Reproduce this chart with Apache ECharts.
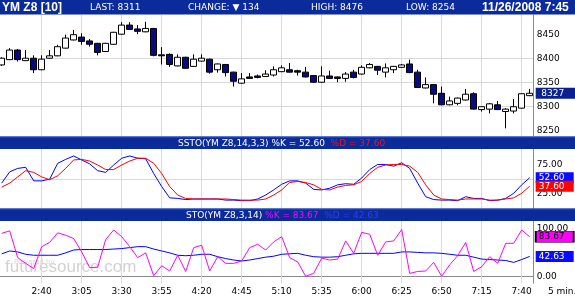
<!DOCTYPE html>
<html><head><meta charset="utf-8">
<script src="https://cdn.jsdelivr.net/npm/echarts@6/dist/echarts.min.js"></script>
<style>html,body{margin:0;padding:0;background:#fff}#c{width:575px;height:300px}</style>
</head><body><div id="c"></div>
<script>
// ---- data ----
const times = ['2:15','2:20','2:25','2:30','2:35','2:40','2:45','2:50','2:55','3:00','3:05','3:10','3:15','3:20','3:25','3:30','3:35','3:40','3:45','3:50','3:55','4:00','4:05','4:10','4:15','4:20','4:25','4:30','4:35','4:40','4:45','4:50','4:55','5:00','5:05','5:10','5:15','5:20','5:25','5:30','5:35','5:40','5:45','5:50','5:55','6:00','6:05','6:10','6:15','6:20','6:25','6:30','6:35','6:40','6:45','6:50','6:55','7:00','7:05','7:10','7:15','7:20','7:25','7:30','7:35','7:40','7:45'];
const opens  = [8386,8397,8417,8395,8400,8376,8400,8405,8421,8438,8444,8436,8431,8414,8429,8450,8469,8461,8455,8462,8407,8408,8384,8402,8383,8394,8398,8376,8387,8371,8348,8361,8363,8362,8365,8372,8376,8374,8371,8364,8350,8363,8361,8358,8371,8367,8380,8383,8371,8376,8381,8388,8371,8338,8345,8327,8303,8306,8313,8326,8293,8294,8303,8289,8290,8296,8322];
const closes = [8400,8417,8397,8400,8376,8398,8405,8424,8442,8449,8435,8429,8412,8431,8454,8469,8460,8456,8462,8406,8405,8387,8402,8379,8398,8400,8371,8388,8370,8352,8357,8358,8360,8367,8376,8380,8371,8371,8361,8350,8363,8358,8358,8367,8360,8381,8387,8375,8380,8383,8386,8370,8339,8345,8325,8303,8311,8317,8325,8294,8299,8305,8293,8294,8299,8326,8327];
const lows   = [8384,8396,8393,8394,8369,8375,8399,8404,8420,8437,8428,8424,8406,8413,8428,8449,8459,8450,8454,8404,8387,8382,8383,8378,8382,8393,8368,8370,8362,8341,8347,8357,8358,8361,8362,8371,8370,8364,8360,8349,8349,8357,8350,8351,8358,8366,8379,8365,8360,8369,8380,8369,8338,8337,8306,8302,8302,8302,8312,8293,8289,8285,8292,8254,8285,8295,8321];
const highs  = [8402,8421,8419,8417,8406,8406,8417,8428,8449,8459,8452,8440,8432,8432,8455,8475,8475,8469,8476,8463,8423,8410,8408,8403,8408,8408,8399,8389,8388,8372,8369,8369,8366,8375,8383,8385,8390,8376,8382,8365,8383,8374,8362,8371,8376,8385,8390,8384,8389,8384,8388,8397,8376,8360,8346,8341,8320,8318,8336,8329,8300,8307,8311,8296,8315,8327,8336];
const sstoK = [43,63,69,71,47,47,50,78,85,91,84,77,65,62,75,87,91,87,86,60,37,17,16,14,15,15,15,15,13,13,12,12,15,22,31,41,47,47,43,32,31,34,40,42,41,52,67,76,76,73,79,69,43,19,14,13,13,12,19,16,16,12,13,16,25,40,52.60];
const sstoD = [36,43,54,65,62,54,49,56,69,84,85,82,75,67,67,75,82,87,87,78,60,37,22,16,15,15,15,15,15,14,13,13,13,15,22,31,44,46,44,40,32,31,36,39,40,46,60,71,75,76,76,73,62,40,22,15,14,13,15,15,15,13,13,15,17,25,37.60];
const stoK  = [91,96,40,28,17,63,72,92,87,80,52,19,20,78,98,84,63,40,50,2,23,12,45,11,61,66,12,42,28,28,33,61,68,56,73,84,40,31,1,7,39,35,37,75,49,93,89,45,73,75,99,7,11,12,30,1,25,44,72,11,21,42,28,70,70,98,83.67];
const stoD  = [48,54,52,47,45,45,45,45,50,56,57,57,57,57,58,59,61,63,63,58,54,50,45,44,45,47,47,42,38,35,33,35,38,41,43,47,48,49,45,42,41,41,42,45,48,49,49,49,49,49,52,52,51,50,50,49,47,45,45,41,37,36,35,34,30,36,42.63];
const priceTicks = [8250,8300,8350,8400,8450];
const sstoTicks = [25,50,75];
const sstoLabelTicks = [25,75];
const stoTicks = [0,100];
const symbolName = 'YM Z8 [10]';
const lastPrice = 8311;
const changePts = 134;
const highPrice = 8476;
const lowPrice = 8254;
const stamp = '11/26/2008 7:45';
const barLabel = '5 min.';

// ---- styles ----
const FONT = 'DejaVu Sans';
const GRIDC = '#d9d9d9';
const AXISC = '#8a8a8a';
const HDR = '#0b2b9b';
const last = times.length - 1;

const chart = echarts.init(document.getElementById('c'), null, {renderer:'canvas'});

const gridTimes = times.filter((t,i)=> i>0 && i%5===0);
function vLines(){
  return { silent:true, symbol:['none','none'], z:1, animation:false, label:{show:false},
    lineStyle:{color:GRIDC, width:1, type:'solid'}, emphasis:{disabled:true},
    data: gridTimes.map(t=>({xAxis:t})) };
}
function tag(val, text, bg, fg, border, w, off, z){
  return { silent:true, z:z, animation:false,
    data:[{coord:[times[last], val], value:text}],
    symbol:'rect', symbolSize:[w,11], symbolOffset:[off,0],
    itemStyle:{color:bg, borderColor:border||bg, borderWidth:border?1:0},
    label:{show:true, position:'inside', offset:[-3,0], formatter:text, color:fg, fontSize:9, fontFamily:FONT},
    emphasis:{disabled:true} };
}
function yAx(gi, min, max, step, ticks, labels, fmt){
  return { type:'value', gridIndex:gi, position:'right', min:min, max:max, minInterval:step, maxInterval:step,
    axisLine:{show:true, lineStyle:{color:AXISC, width:1}},
    axisTick:{show:false, customValues:ticks},
    axisLabel:{show:true, customValues:labels, margin:3, color:'#000', fontSize:9, fontFamily:FONT, formatter:fmt},
    splitLine:{show:true, showMinLine:false, showMaxLine:false, lineStyle:{color:GRIDC, width:1}} };
}
function xAx(gi, showLabels){
  return { type:'category', gridIndex:gi, data:times, boundaryGap:true,
    axisLine:{show:showLabels, lineStyle:{color:AXISC}}, axisTick:{show:false},
    axisLabel:{show:showLabels, margin:4, color:'#000', fontSize:9, fontFamily:FONT,
      interval:(i)=> i>0 && i%5===0},
    splitLine:{show:false} };
}

const gridBase = {left:-2.3, width:536, containLabel:false, outerBoundsMode:'none', show:false};
const headerText = (x, y, text, opts) => Object.assign({type:'text', x:x, y:y, z:101,
  style:Object.assign({text:text, fill:'#fff', font:'9px "'+FONT+'"', verticalAlign:'middle', align:'left'}, opts||{})});

const option = {
  animation:false,
  backgroundColor:'#fff',
  grid:[
    Object.assign({top:15, height:121}, gridBase),
    Object.assign({top:149, height:59.5}, gridBase),
    Object.assign({top:221, height:62.3}, gridBase)
  ],
  xAxis:[xAx(0,false), xAx(1,false), xAx(2,true)],
  yAxis:[
    yAx(0, 8238, 8490, 50, priceTicks, priceTicks, v=>String(v)),
    yAx(1, -1.8, 103.3, 25, sstoTicks, sstoLabelTicks, v=>v.toFixed(2)),
    yAx(2, -13.8, 116.8, 100, stoTicks, stoTicks, v=>v.toFixed(2))
  ],
  series:[
    { type:'candlestick', xAxisIndex:0, yAxisIndex:0, barWidth:6, z:2,
      data: times.map((t,i)=>[opens[i], closes[i], lows[i], highs[i]]),
      itemStyle:{color:'#ffffff', color0:'#0a0a80', borderColor:'#000', borderColor0:'#000', borderWidth:1},
      emphasis:{disabled:true},
      markLine: vLines(),
      markPoint: tag(closes[last], String(closes[last]), '#0a2090', '#fff', null, 40, 26, 6) },
    { type:'line', xAxisIndex:1, yAxisIndex:1, data:sstoK, symbol:'none', z:3,
      lineStyle:{color:'#0000ff', width:1}, emphasis:{disabled:true},
      markLine: vLines(),
      markPoint: tag(sstoK[last], sstoK[last].toFixed(2), '#0a0aff', '#fff', null, 38, 25, 6) },
    { type:'line', xAxisIndex:1, yAxisIndex:1, data:sstoD, symbol:'none', z:3,
      lineStyle:{color:'#ff0000', width:1}, emphasis:{disabled:true},
      markPoint: tag(sstoD[last], sstoD[last].toFixed(2), '#ff0000', '#fff', null, 38, 25, 7) },
    { type:'line', xAxisIndex:2, yAxisIndex:2, data:stoD, symbol:'none', z:3,
      lineStyle:{color:'#0000ff', width:1}, emphasis:{disabled:true},
      markLine: vLines(),
      markPoint: tag(stoD[last], stoD[last].toFixed(2), '#0a0aff', '#fff', null, 38, 25, 6) },
    { type:'line', xAxisIndex:2, yAxisIndex:2, data:stoK, symbol:'none', z:4,
      lineStyle:{color:'#ff00ff', width:1}, emphasis:{disabled:true},
      markPoint: tag(stoK[last], stoK[last].toFixed(2), '#ff00ff', '#000', '#000', 38, 25, 7) }
  ],
  graphic:[
    // watermark
    {type:'text', x:14, y:262, z:0, silent:true, style:{text:'Powered by', fill:'#d6dcc8', font:'7px "'+FONT+'"', verticalAlign:'middle'}},
    {type:'text', x:5, y:276, z:0, silent:true, style:{text:'futuresource.com', fill:'#d2d2d2', font:'17px "Liberation Sans"', verticalAlign:'bottom'}},
    // header bars
    {type:'rect', z:100, silent:true, shape:{x:0, y:0, width:575, height:14.5}, style:{fill:HDR}},
    {type:'rect', z:100, silent:true, shape:{x:0, y:136.5, width:575, height:12.5}, style:{fill:HDR}},
    {type:'rect', z:100, silent:true, shape:{x:0, y:136.5, width:575, height:1}, style:{fill:'#2c58d8'}},
    {type:'rect', z:100, silent:true, shape:{x:0, y:208.5, width:575, height:12.5}, style:{fill:HDR}},
    {type:'rect', z:100, silent:true, shape:{x:0, y:208.5, width:575, height:1}, style:{fill:'#2c58d8'}},
    headerText(2, 7.5, symbolName, {font:'bold 12px "Liberation Sans"'}),
    headerText(90, 7.5, 'LAST: ' + lastPrice),
    headerText(188, 7.5, 'CHANGE: \u25BC ' + changePts),
    headerText(311, 7.5, 'HIGH: ' + highPrice),
    headerText(406, 7.5, 'LOW: ' + lowPrice),
    headerText(482, 7.5, stamp, {font:'bold 12px "Liberation Sans"'}),
    headerText(178, 143.5, '{w|SSTO(YM Z8,14,3,3) %K = ' + sstoK[last].toFixed(2) + '}  {r|%D = ' + sstoD[last].toFixed(2) + '}',
      {rich:{w:{fill:'#fff', font:'9px "'+FONT+'"'}, r:{fill:'#ff1010', font:'9px "'+FONT+'"'}}}),
    headerText(186, 215.5, '{w|STO(YM Z8,3,14)} {m|%K = ' + stoK[last].toFixed(2) + '}  {b|%D = ' + stoD[last].toFixed(2) + '}',
      {rich:{w:{fill:'#fff', font:'9px "'+FONT+'"'}, m:{fill:'#ff00ff', font:'9px "'+FONT+'"'}, b:{fill:'#2a3cff', font:'9px "'+FONT+'"'}}}),
    {type:'text', x:548, y:292, z:101, silent:true, style:{text:barLabel, fill:'#000', font:'9px "'+FONT+'"', verticalAlign:'middle'}}
  ]
};
chart.setOption(option);
</script></body></html>
